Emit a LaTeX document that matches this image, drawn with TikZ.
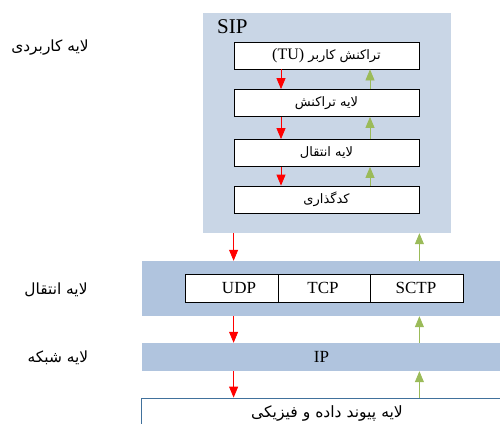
\documentclass[tikz,border=0pt]{standalone}
\usepackage{fontspec}
\setmainfont{Liberation Serif}
\newfontfamily\fa[Script=Arabic]{DejaVu Sans}
\TeXXeTstate=1
\usetikzlibrary{arrows.meta}
\definecolor{siplight}{RGB}{201,214,230}
\definecolor{band}{RGB}{176,196,222}
\definecolor{grn}{RGB}{155,187,89}
\definecolor{bord}{RGB}{65,113,156}
\begin{document}
\begin{tikzpicture}[x=1pt,y=-1pt,
  box/.style={draw=black,fill=white,line width=0.8pt,inner sep=0pt,minimum width=185pt,minimum height=27pt,font=\fontsize{13}{15}\fa},
  proto/.style={draw=black,fill=white,line width=0.8pt,inner sep=0pt,minimum height=28pt},
  ltxt/.style={inner sep=0pt,font=\fontsize{17}{19}\selectfont},
  bandbox/.style={fill=band,draw=none,inner sep=0pt,minimum width=359pt},
  lbl/.style={font=\fontsize{15.4}{17}\fa,inner sep=0pt},
  down/.style={draw=red,line width=0.8pt,-{Triangle[length=11pt,width=9pt]},fill=red},
  up/.style={draw=grn,line width=0.8pt,-{Triangle[length=11pt,width=9pt]},fill=grn}]
\useasboundingbox (0,0) rectangle (500,423);
% SIP container
\node[fill=siplight,inner sep=0pt,minimum width=248pt,minimum height=220pt] (sip) at (327,123) {};
\node[anchor=west,inner sep=0pt,font=\fontsize{21}{23}\selectfont] (siplbl) at (217,27) {SIP};
\node[box] (b1) at (326.5,55.5) {\beginR تراکنش کاربر \beginL{\rmfamily\fontsize{16}{18}\selectfont(TU)}\endL\endR};
\node[box] (b2) at (326.5,103) {\beginR لایه تراکنش\endR};
\node[box] (b3) at (326.5,153) {\beginR لایه انتقال\endR};
\node[box] (b4) at (326.5,199.5) {\beginR کدگذاری\endR};
\coordinate (dx) at (281,0);
\coordinate (ux) at (370,0);
\foreach \a/\b in {b1/b2,b2/b3,b3/b4}{
  \draw[down] (\a.south -| dx) -- (\b.north -| dx);
  \draw[up] (\b.north -| ux) -- (\a.south -| ux);
}
% transport band
\node[bandbox,minimum height=55pt] (tr) at (321.5,288.5) {};
\node[proto,minimum width=93pt] (udp) at (231.5,288) {};
\node[ltxt] (udpt) at (239,288) {UDP};
\node[proto,minimum width=92pt] (tcp) at (324,288) {};
\node[ltxt] (tcpt) at (323,288) {TCP};
\node[proto,minimum width=93pt] (sctp) at (416.5,288) {};
\node[ltxt] (sctpt) at (416,288) {SCTP};
% IP band
\node[bandbox,minimum height=28pt,font=\fontsize{17}{19}\selectfont] (ip) at (321.5,357) {IP};
% bottom box
\node[draw=bord,fill=white,line width=0.8pt,inner sep=0pt,minimum width=362pt,minimum height=50pt] (phy) at (322,423) {};
\node[font=\fontsize{15.6}{17}\fa,inner sep=0pt] (phyl) at (327,413) {\beginR لایه پیوند داده و فیزیکی\endR};
% inter-layer arrows
\draw[down] (sip.south -| b1.west) -- (tr.north -| b1.west);
\draw[up] (tr.north -| b1.east) -- (sip.south -| b1.east);
\draw[down] (tr.south -| b1.west) -- (ip.north -| b1.west);
\draw[up] (ip.north -| b1.east) -- (tr.south -| b1.east);
\draw[down] (ip.south -| b1.west) -- (phy.north -| b1.west);
\draw[up] (phy.north -| b1.east) -- (ip.south -| b1.east);
% left labels
\node[lbl] (l1) at (50,48) {\beginR لایه کاربردی\endR};
\node[lbl] (l2) at (56,290) {\beginR لایه انتقال\endR};
\node[lbl] (l3) at (58,358) {\beginR لایه شبکه\endR};
\end{tikzpicture}
\end{document}
